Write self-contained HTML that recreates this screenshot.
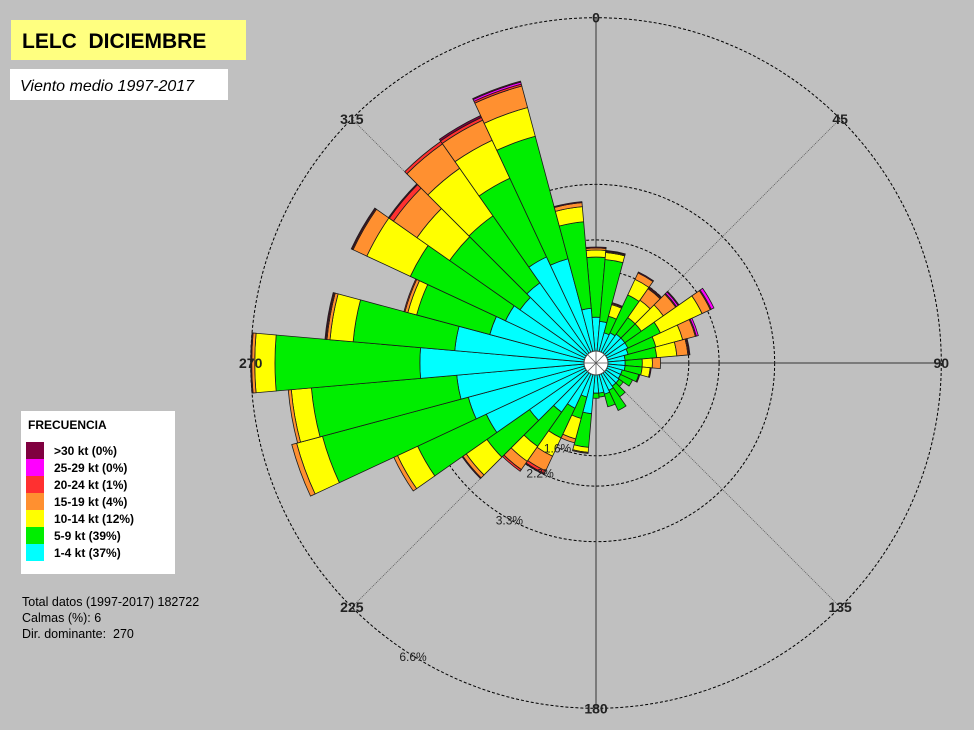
<!DOCTYPE html>
<html><head><meta charset="utf-8"><style>
html,body{margin:0;padding:0;background:#c0c0c0;}
#wrap{position:relative;width:974px;height:730px;overflow:hidden;background:#c0c0c0;font-family:"Liberation Sans",sans-serif;}
svg{position:absolute;left:0;top:0;}
</style></head><body>
<div id="wrap">
<svg id="chart" width="974" height="730" viewBox="0 0 974 730">
 <rect x="11" y="20" width="235" height="40" fill="#ffff80"/>
 <text x="22" y="48" font-size="21" font-weight="bold" fill="#000" font-family="Liberation Sans, sans-serif" xml:space="preserve">LELC  DICIEMBRE</text>
 <rect x="10" y="69" width="218" height="31" fill="#fff"/>
 <text x="20" y="91" font-size="16" font-style="italic" fill="#000" font-family="Liberation Sans, sans-serif">Viento medio 1997-2017</text>
 <g id="grid"></g>
 <g id="bars"></g>
 <g id="overlay"></g>
 <g id="legend">
  <rect x="21" y="411" width="154" height="163" fill="#fff"/>
  <text x="28" y="429" font-size="12" font-weight="bold" fill="#000">FRECUENCIA</text>
 </g>
 <text x="22" y="606" font-size="12.5" fill="#000">Total datos (1997-2017) 182722</text>
 <text x="22" y="622" font-size="12.5" fill="#000">Calmas (%): 6</text>
 <text x="22" y="638" font-size="12.5" fill="#000" xml:space="preserve">Dir. dominante:  270</text>
</svg>
</div>
<script>
const directions = [0,10,20,30,40,50,60,70,80,90,100,110,120,130,140,150,160,170,180,190,200,210,220,230,240,250,260,270,280,290,300,310,320,330,340,350];
const cyan1to4 = [0.67,0.59,0.38,0.42,0.46,0.46,0.46,0.42,0.34,0.34,0.34,0.30,0.30,0.32,0.32,0.36,0.40,0.36,0.36,0.77,0.46,0.75,0.95,1.37,2.16,2.38,2.53,3.25,2.57,1.94,1.74,1.60,1.70,2.08,1.90,0.85];
const green5to9 = [1.19,1.23,0.34,0.83,0.40,0.40,0.71,0.57,0.63,0.34,0.34,0.34,0.26,0.10,0.26,0.44,0.26,0.08,0.10,0.67,0.44,0.65,0.83,1.03,1.50,2.99,2.89,2.87,2.02,1.50,2.08,1.70,1.62,1.72,2.51,1.72];
const yellow10to14 = [0.14,0.14,0.24,0.34,0.42,0.53,0.91,0.55,0.40,0.20,0.16,0,0,0,0,0,0,0,0,0.10,0.42,0.40,0.36,0.50,0.44,0.53,0.40,0.40,0.46,0.18,0.95,0.79,1.15,0.83,0.59,0.30];
const orange15to19 = [0.04,0.02,0.02,0.14,0.28,0.30,0.18,0.26,0.22,0.16,0,0,0,0,0,0,0,0,0,0.02,0.08,0.32,0.20,0.08,0.08,0.10,0.06,0.06,0.06,0.06,0.30,0.57,0.59,0.44,0.44,0.08];
const red20to24 = [0,0,0,0,0.02,0.02,0.02,0.02,0.02,0,0,0,0,0,0,0,0,0,0,0,0,0.06,0.04,0,0,0,0,0,0.02,0.02,0.02,0.10,0.06,0.06,0.04,0];
const magenta25to29 = [0,0,0,0,0,0.04,0.06,0.04,0,0,0,0,0,0,0,0,0,0,0,0,0,0,0,0,0,0,0,0,0,0,0,0,0,0,0.04,0];
const dark30plus = [0.02,0.02,0.02,0.02,0.02,0.02,0,0,0.02,0,0.02,0.02,0,0,0,0,0,0,0,0,0,0.02,0,0.02,0,0,0,0.02,0.02,0,0.02,0.02,0,0.04,0.02,0.02];
const seriesNames = ["1-4 kt (37%)","5-9 kt (39%)","10-14 kt (12%)","15-19 kt (4%)","20-24 kt (1%)","25-29 kt (0%)",">30 kt (0%)"];
const ringValues = [1.6,2.2,3.3,6.6];
const ringLabels = ["1.6%","2.2%","3.3%","6.6%"];
const axisAngles = [0,45,90,135,180,225,270,315];
const axisLabels = ["0","45","90","135","180","225","270","315"];

const NS="http://www.w3.org/2000/svg";
const CX=596, CY=363, R0=12, K=50.5;
const colors=["#00ffff","#00ee00","#ffff00","#ff9030","#ff3030","#ff00ff","#800040"];
const series=[cyan1to4,green5to9,yellow10to14,orange15to19,red20to24,magenta25to29,dark30plus];
function rScale(p){return R0+K*p;}
function pt(deg,r){const a=deg*Math.PI/180;return [CX+r*Math.sin(a),CY-r*Math.cos(a)];}
function mk(tag,attrs,parent){const e=document.createElementNS(NS,tag);for(const k in attrs)e.setAttribute(k,attrs[k]);parent.appendChild(e);return e;}

const grid=document.getElementById('grid');
ringValues.forEach((v,i)=>{
  const c=mk('circle',{cx:CX,cy:CY,r:rScale(v),fill:'none',stroke:'#000','stroke-width':1,'stroke-dasharray':'3,2'},grid);
  
  
});
axisAngles.forEach((a,i)=>{
  const p1=pt(a,rScale(6.6)), p2=pt(a+180,rScale(6.6));
  const l=mk('line',{x1:CX,y1:CY,x2:p1[0],y2:p1[1],stroke:(a%90===0)?'#333':'#555','stroke-width':(a%90===0)?1:0.8,'stroke-dasharray':(a%90===0)?'none':'1,1'},grid);
  
  
});

const bars=document.getElementById('bars');
function wedge(dir,r1,r2){
  const a1=dir-5,a2=dir+5;
  const p1=pt(a1,r1),p2=pt(a1,r2),p3=pt(a2,r2),p4=pt(a2,r1);
  return `M${p1[0]},${p1[1]} L${p2[0]},${p2[1]} A${r2},${r2} 0 0 1 ${p3[0]},${p3[1]} L${p4[0]},${p4[1]} A${r1},${r1} 0 0 0 ${p1[0]},${p1[1]} Z`;
}
directions.forEach((d,i)=>{
  let cum=0;
  series.forEach((s,j)=>{
    const v=s[i]; if(v<=0) return;
    const r1=rScale(cum), r2=rScale(cum+v); cum+=v;
    const p=mk('path',{d:wedge(d,r1,r2),fill:colors[j],stroke:'#1a1a1a','stroke-width':0.8},bars);
    
    
  });
});

const ov=document.getElementById('overlay');
const hole=mk('circle',{cx:CX,cy:CY,r:R0,fill:'#fff',stroke:'#444','stroke-width':1},ov);


[0,45,90,135].forEach(a=>{
  const p1=pt(a,R0),p2=pt(a+180,R0);
  const l=mk('line',{x1:p1[0],y1:p1[1],x2:p2[0],y2:p2[1],stroke:'#555','stroke-width':0.8},ov);
  
  
});
axisAngles.forEach((a,i)=>{
  const p=pt(a,rScale(6.6));
  const t=mk('text',{x:p[0],y:p[1]+5,'text-anchor':'middle','font-size':14,'font-weight':'bold',fill:'#222','font-family':'Liberation Sans, sans-serif'},ov);
  t.textContent=axisLabels[i];
  
  
});
const ringLabelAngles=[204.5,207,209,212];
ringValues.forEach((v,i)=>{
  const p=pt(ringLabelAngles[i],rScale(v));
  const t=mk('text',{x:p[0],y:p[1]+5,'text-anchor':'middle','font-size':12,fill:'#222','font-family':'Liberation Sans, sans-serif'},ov);
  t.textContent=ringLabels[i];
  
  
});

const lg=document.getElementById('legend');
for(let k=0;k<7;k++){
  const j=6-k;
  const y=442+k*17;
  const r=mk('rect',{x:26,y:y,width:18,height:17,fill:colors[j]},lg);
  
  
  const t=mk('text',{x:54,y:y+13,'font-size':12,'font-weight':'bold',fill:'#000','font-family':'Liberation Sans, sans-serif'},lg);
  t.textContent=seriesNames[j];
  
  
}
</script>
</body></html>
